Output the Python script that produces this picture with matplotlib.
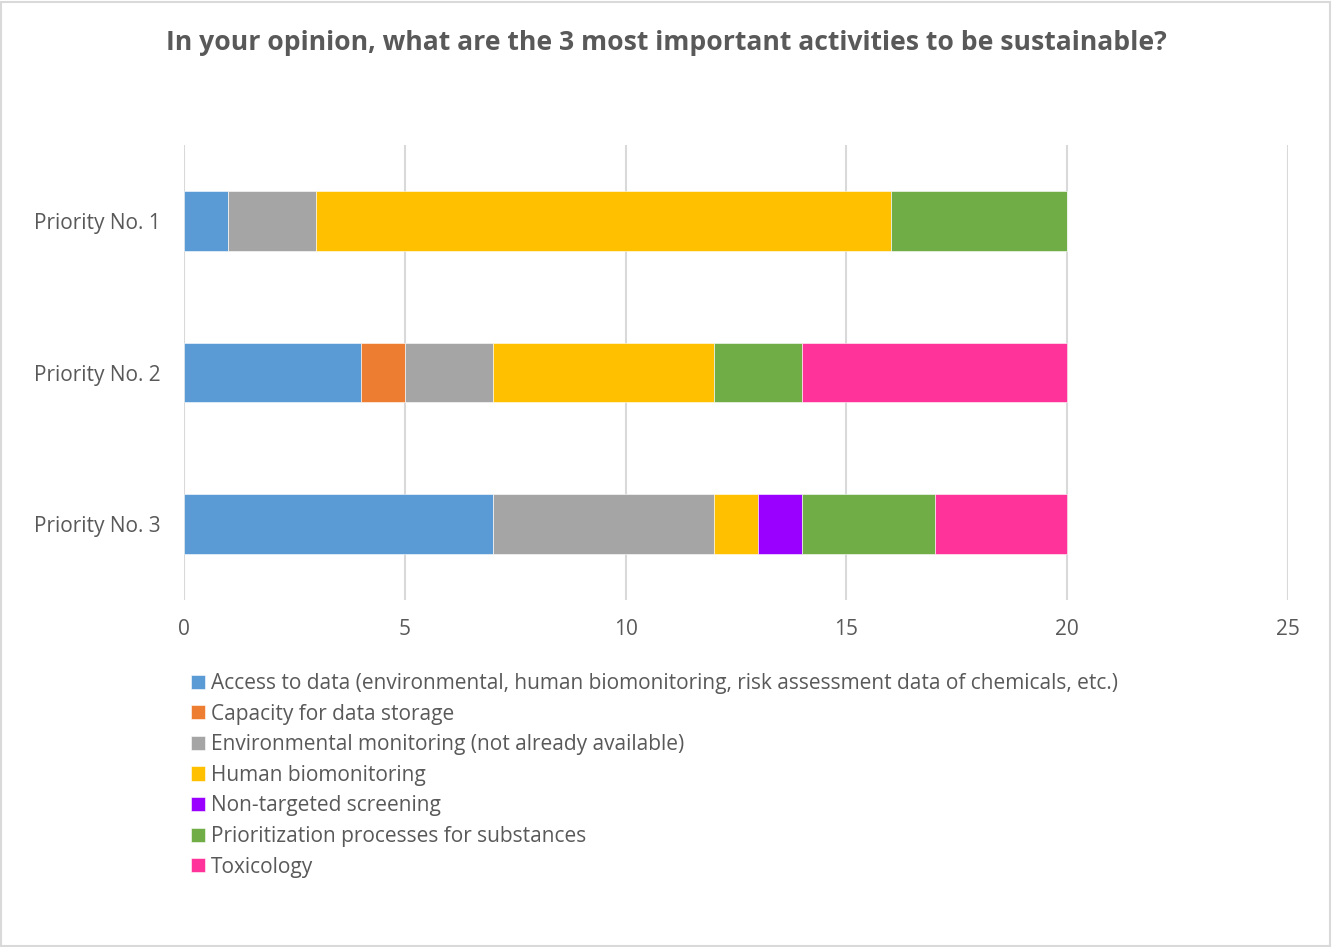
import matplotlib.pyplot as plt
import matplotlib.patches as mpatches
import numpy as np

# Data

priorities = ['Priority No. 1', 'Priority No. 2', 'Priority No. 3']
series_names = [
    'Access to data (environmental, human biomonitoring, risk assessment data of chemicals, etc.)',
    'Capacity for data storage',
    'Environmental monitoring (not already available)',
    'Human biomonitoring',
    'Non-targeted screening',
    'Prioritization processes for substances',
    'Toxicology',
]
access_data = [1, 4, 7]
data_storage = [0, 1, 0]
env_monitoring = [2, 2, 5]
human_biomon = [13, 5, 1]
non_targeted = [0, 0, 1]
prioritization = [4, 2, 3]
toxicology = [0, 6, 3]
x_ticks = [0, 5, 10, 15, 20, 25]

colors = ['#5B9BD5', '#ED7D31', '#A5A5A5', '#FFC000', '#9900FF', '#70AD47', '#FF3399']
text_color = '#595959'
grid_color = '#D9D9D9'

plt.rcParams['font.family'] = ['Open Sans', 'DejaVu Sans']

fig = plt.figure(figsize=(13.33, 9.47), dpi=100)
ax = fig.add_axes([0.138, 0.3664, 0.8282, 0.4805])

series = [access_data, data_storage, env_monitoring, human_biomon,
          non_targeted, prioritization, toxicology]
ypos = np.arange(len(priorities))
left = np.zeros(len(priorities))
for name, vals, col in zip(series_names, series, colors):
    ax.barh(ypos, vals, left=left, height=0.395, color=col, label=name,
            edgecolor='white', linewidth=0.4, zorder=3)
    left += np.array(vals)

ax.set_xlim(0, 25)
ax.set_ylim(2.5, -0.5)
ax.set_xticks(x_ticks)
ax.set_yticks(ypos)
ax.set_yticklabels(priorities)
ax.grid(axis='x', color=grid_color, linewidth=1.5, zorder=0)
for s in ax.spines.values():
    s.set_visible(False)
ax.tick_params(axis='both', length=0, labelsize=15, colors=text_color)
ax.tick_params(axis='x', pad=14)
ax.tick_params(axis='y', pad=17)

fig.text(0.5, 0.955, 'In your opinion, what are the 3 most important activities to be sustainable?',
         ha='center', va='center', fontsize=19.1, fontweight='bold', color=text_color)

leg = fig.legend(loc='upper left', bbox_to_anchor=(0.1433, 0.2893), frameon=False,
                 handlelength=0.67, handleheight=0.67, handletextpad=0.29,
                 labelspacing=0.46, fontsize=15, borderaxespad=0, borderpad=0)
for t in leg.get_texts():
    t.set_color(text_color)

# light chart border
fig.patches.append(mpatches.Rectangle((0.001, 0.001), 0.997, 0.997, transform=fig.transFigure,
                                      fill=False, edgecolor=grid_color, linewidth=1.5))

plt.savefig('out.png', dpi=100)
